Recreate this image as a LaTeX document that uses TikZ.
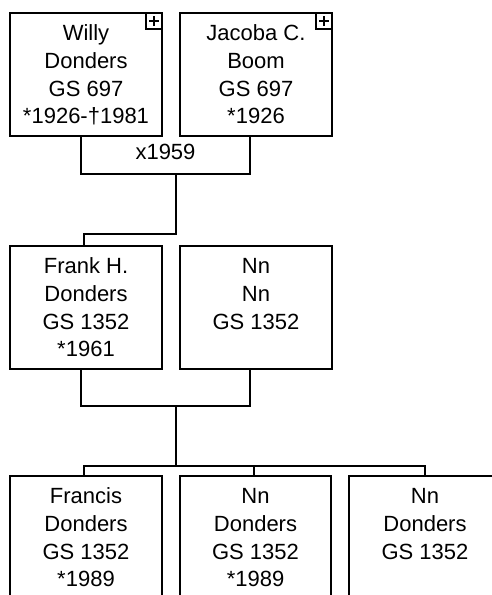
\documentclass[tikz,border=0pt]{standalone}
\usepackage{fontspec}
\setmainfont{Liberation Sans}
\usetikzlibrary{calc}
\tikzset{
  person/.style={draw, line width=1.6pt, inner sep=0pt, outer sep=0pt, anchor=north west,
    font=\fontsize{22}{27.8}\selectfont},
  plusbox/.style={draw, fill=white, line width=1.4pt, inner sep=0pt, outer sep=0pt,
    minimum size=16pt, anchor=north east,
    path picture={
      \draw[line width=2pt] ($(path picture bounding box.center)+(-5pt,0pt)$) -- ($(path picture bounding box.center)+(5pt,0pt)$);
      \draw[line width=2pt] ($(path picture bounding box.center)+(0pt,-5pt)$) -- ($(path picture bounding box.center)+(0pt,5pt)$);
    }},
  link/.style={line width=1.6pt},
  lbl/.style={inner sep=0pt, font=\fontsize{22}{26}\selectfont},
}
\newcommand{\pcontent}[2][152pt]{\parbox[t][123pt][t]{#1}{\centering\rule{0pt}{27.5pt}#2}}
\begin{document}
\begin{tikzpicture}[x=1pt,y=-1pt]
\useasboundingbox (0,0) rectangle (492,595);
\clip (0,0) rectangle (492,595);
% generation 1
\node[person] (willy) at (10,13) {\pcontent{Willy\\Donders\\GS 697\\{}*1926-†1981}};
\node[person] (jacoba) at (180,13) {\pcontent{Jacoba C.\\Boom\\GS 697\\{}*1926}};
\node[plusbox] (wplus) at (willy.north east) {};
\node[plusbox] (jplus) at (jacoba.north east) {};
% generation 2
\node[person] (frank) at (10,246) {\pcontent{Frank H.\\Donders\\GS 1352\\{}*1961}};
\node[person] (nnwife) at (180,246) {\pcontent{Nn\\Nn\\GS 1352}};
% generation 3
\node[person] (francis) at (10,476) {\pcontent{Francis\\Donders\\GS 1352\\{}*1989}};
\node[person] (nnchildA) at (180,476) {\pcontent[151pt]{Nn\\Donders\\GS 1352\\{}*1989}};
\node[person] (nnchildB) at (349,476) {\pcontent{Nn\\Donders\\GS 1352}};
% marriage 1
\coordinate (wdrop) at ($(willy.south)+(-5,0)$);
\coordinate (jdrop) at ($(jacoba.south)+(-6,0)$);
\coordinate (mbar) at (165.5,174);
\coordinate (mdesc) at (176,174);
\coordinate (kbend) at (176,234);
\coordinate (fin) at ($(frank.north)+(-2,0)$);
\draw[link] (wdrop) |- (mbar) -| (jdrop);
\node[lbl] (marriage) at (165.5,152) {x1959};
\draw[link] (mdesc) -- (kbend) -| (fin);
% marriage 2
\coordinate (fdrop) at ($(frank.south)+(-5,0)$);
\coordinate (ndrop) at ($(nnwife.south)+(-6,0)$);
\coordinate (mbarB) at (176,406);
\coordinate (bus) at (176,466);
\draw[link] (fdrop) |- (mbarB) -| (ndrop);
\draw[link] (mbarB) -- (bus);
\draw[link] ($(francis.north)+(-2,0)$) |- (bus) -| (nnchildB.north);
\draw[link] ($(nnchildA.north)+(-1.5,0)$) -- ($(nnchildA.north)+(-1.5,-10)$);
\end{tikzpicture}
\end{document}
